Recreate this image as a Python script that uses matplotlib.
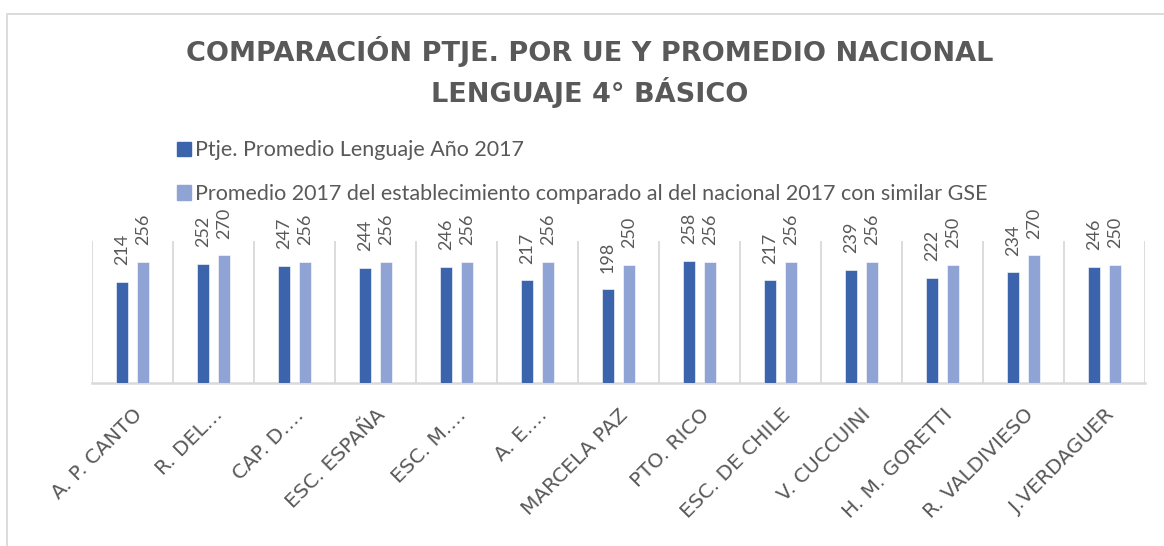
import matplotlib
matplotlib.use('Agg')
import matplotlib.pyplot as plt
from matplotlib.patches import Rectangle, Patch
import numpy as np

escuelas = ['A. P. CANTO', 'R. DEL…', 'CAP. D.…', 'ESC. ESPAÑA', 'ESC. M.…', 'A. E.…',
            'MARCELA PAZ', 'PTO. RICO', 'ESC. DE CHILE', 'V. CUCCUINI', 'H. M. GORETTI',
            'R. VALDIVIESO', 'J.VERDAGUER']
ptje_2017 = [214, 252, 247, 244, 246, 217, 198, 258, 217, 239, 222, 234, 246]
nacional_2017 = [256, 270, 256, 256, 256, 256, 250, 256, 256, 256, 250, 270, 250]
serie1 = 'Ptje. Promedio Lenguaje Año 2017'
serie2 = 'Promedio 2017 del establecimiento comparado al del nacional 2017 con similar GSE'
titulo = 'COMPARACIÓN PTJE. POR UE Y PROMEDIO NACIONAL\nLENGUAJE 4° BÁSICO'

c1 = '#3B64AD'
c2 = '#8FA3D5'
gris = '#595959'
linea = '#D9D9D9'

W, H = 1164, 546
fig = plt.figure(figsize=(W/100, H/100), dpi=100)
ax = fig.add_axes([92/W, 1-383/H, (1145-92)/W, (383-241)/H])

# marco del grafico (cortado a la derecha y abajo)
fig.patches.append(Rectangle((7/W, -0.05), 1.1, 1-14/H+0.05, transform=fig.transFigure,
                             fill=False, edgecolor=linea, lw=1.3))

x = np.arange(len(escuelas))
bw = 0.14
off = 0.13
b1 = ax.bar(x-off, ptje_2017, bw, color=c1, edgecolor='white', lw=0.4, zorder=3)
b2 = ax.bar(x+off, nacional_2017, bw, color=c2, edgecolor='white', lw=0.4, zorder=3)

for bars in (b1, b2):
    for r in bars:
        ax.annotate(str(int(r.get_height())), (r.get_x()+r.get_width()/2, r.get_height()),
                    xytext=(0, 12), textcoords='offset points', rotation=90,
                    ha='center', va='bottom', fontsize=13, color=gris, family='Lato',
                    annotation_clip=False)

for s in np.arange(-0.5, len(escuelas), 1):
    ax.axvline(s, color=linea, lw=1.3, zorder=1)

ax.set_xlim(-0.5, len(escuelas)-0.5)
ax.set_ylim(0, 300)
ax.set_yticks([])
for sp in ['top', 'right', 'left']:
    ax.spines[sp].set_visible(False)
ax.spines['bottom'].set_color(linea)
ax.spines['bottom'].set_linewidth(1.8)
ax.set_xticks(x)
ax.set_xticklabels(escuelas, rotation=45, ha='right', rotation_mode='anchor',
                   fontsize=14.5, color=gris, family='DejaVu Sans')
ax.tick_params(axis='x', length=0, pad=16)

fig.text(590/W, 1-36/H, titulo, ha='center', va='top', fontsize=19.5, fontweight='bold',
         color=gris, linespacing=1.4)

h = [Patch(color=c1), Patch(color=c2)]
fig.legend(h, [serie1, serie2], loc='upper left', bbox_to_anchor=(158/W, 1-121/H),
           frameon=False, handlelength=0.65, handleheight=0.65, handletextpad=0.15,
           labelspacing=1.1, prop={'family': 'Lato', 'size': 15.5}, labelcolor=gris)

fig.savefig('out.png', dpi=100)
